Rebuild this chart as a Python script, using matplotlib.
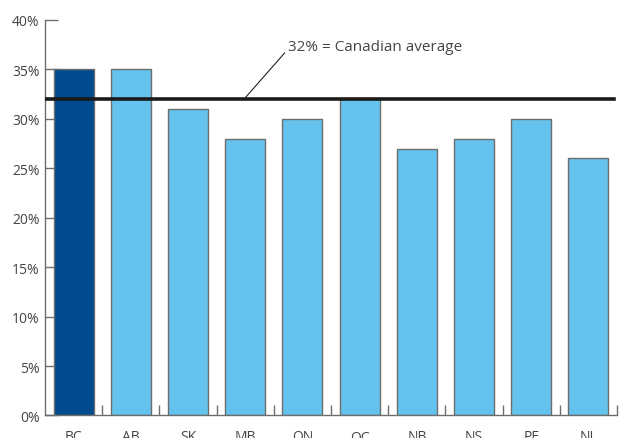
import matplotlib
matplotlib.use("Agg")
import matplotlib.pyplot as plt
import numpy as np

provinces = ["BC", "AB", "SK", "MB", "ON", "QC", "NB", "NS", "PE", "NL"]
values = [35, 35, 31, 28, 30, 32, 27, 28, 30, 26]
average = 32
yticks = [0, 5, 10, 15, 20, 25, 30, 35, 40]
ytick_labels = [f"{v}%" for v in yticks]
avg_label = "32% = Canadian average"

plt.rcParams['font.family'] = ['Open Sans', 'DejaVu Sans']

fig = plt.figure(figsize=(6.2, 4.39), dpi=100)
ax = fig.add_axes([0.0726, 0.0513, 0.9226, 0.9009])

x = np.arange(len(provinces))
colors = ["#004b8d"] + ["#63c3ee"] * (len(provinces) - 1)
ax.bar(x, values, width=0.7, color=colors, edgecolor="#6d6d6d", linewidth=1.0, zorder=2)

ax.axhline(average, xmin=0, xmax=0.995, color="#1a1a1a", linewidth=2.6, zorder=3)

ax.set_xlim(-0.5, len(provinces) - 0.5)
ax.set_ylim(0, 40)

ax.set_yticks(yticks)
ax.set_yticklabels(ytick_labels)
ax.set_xticks(x)
ax.set_xticklabels(provinces)
ax.tick_params(axis='x', length=0, pad=10, labelsize=10, labelcolor="#444444")
ax.set_xticks(np.arange(len(provinces)) + 0.5, minor=True)
ax.tick_params(axis='x', which='minor', direction='in', length=7, width=1, color="#6d6d6d")
ax.tick_params(axis='y', direction='in', length=9.5, width=1, color="#6d6d6d",
               pad=4, labelsize=10, labelcolor="#444444")

for s in ["top", "right"]:
    ax.spines[s].set_visible(False)
for s in ["left", "bottom"]:
    ax.spines[s].set_color("#6d6d6d")
    ax.spines[s].set_linewidth(1.0)

ax.annotate(avg_label, xy=(2.98, average), xytext=(3.74, 37.3),
            fontsize=11, color="#444444", ha="left", va="center",
            arrowprops=dict(arrowstyle="-", color="#222222", linewidth=0.8,
                            shrinkA=0, shrinkB=0, relpos=(0, 0.3)),
            zorder=4)

fig.savefig("out.png", dpi=100)
